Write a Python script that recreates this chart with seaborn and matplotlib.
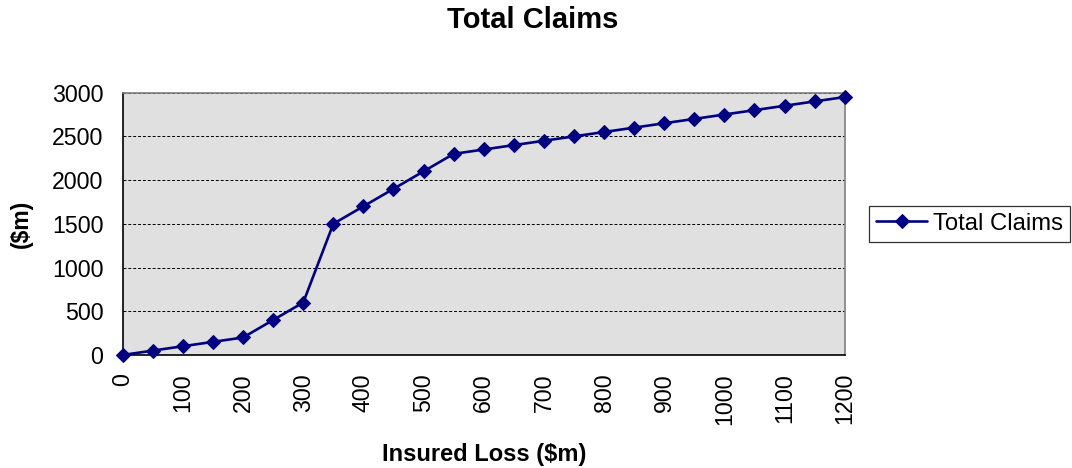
import numpy as np
import pandas as pd
import matplotlib
matplotlib.use("Agg")
import matplotlib.pyplot as plt
import seaborn as sns

# data
insured_loss = [0, 50, 100, 150, 200, 250, 300, 350, 400, 450, 500, 550, 600,
                650, 700, 750, 800, 850, 900, 950, 1000, 1050, 1100, 1150, 1200]
total_claims = [0, 50, 100, 150, 200, 400, 600, 1500, 1700, 1900, 2100, 2300, 2350,
                2400, 2450, 2500, 2550, 2600, 2650, 2700, 2750, 2800, 2850, 2900, 2950]
x_ticks = list(range(0, 1201, 100))
y_ticks = list(range(0, 3001, 500))

sns.set_style("white")
plt.rcParams['font.family'] = ['Liberation Sans', 'DejaVu Sans']
plt.rcParams['text.color'] = 'black'
plt.rcParams['axes.labelcolor'] = 'black'
plt.rcParams['xtick.color'] = 'black'
plt.rcParams['ytick.color'] = 'black'

df = pd.DataFrame({"Insured Loss ($m)": insured_loss, "Total Claims": total_claims})

fig = plt.figure(figsize=(10.72, 4.68), dpi=100)
ax = fig.add_axes([0.1145, 0.2415, 0.6735, 0.5605])
ax.set_facecolor("#E0E0E0")

sns.lineplot(data=df, x="Insured Loss ($m)", y="Total Claims", ax=ax,
             color="#000080", marker="D", markersize=7.5, linewidth=1.9,
             markeredgecolor="#000080", label="Total Claims", clip_on=False, zorder=5)

ax.set_xlim(0, 1200)
ax.set_ylim(0, 3000)
ax.set_xticks(x_ticks)
ax.set_xticks(insured_loss, minor=True)
ax.set_yticks(y_ticks)
ax.set_xticklabels([str(v) for v in x_ticks], rotation=90, fontsize=16.7)
ax.set_yticklabels([str(v) for v in y_ticks], fontsize=16.7)
ax.tick_params(axis="x", which="both", direction="out", length=7, width=1,
               color="#555555", pad=6)
ax.tick_params(axis="y", direction="out", length=7, width=1, color="black", pad=7)

ax.grid(axis="y", color="black", linestyle=(0, (3, 2)), linewidth=0.7)
ax.set_axisbelow(True)

for side in ["left", "bottom"]:
    ax.spines[side].set_color("black")
    ax.spines[side].set_linewidth(1.2)
for side in ["top", "right"]:
    ax.spines[side].set_color("#808080")
    ax.spines[side].set_linewidth(1.2)
    ax.spines[side].set_visible(True)

ax.set_xlabel("Insured Loss ($m)", fontsize=17, fontweight="bold")
ax.set_ylabel("($m)", fontsize=16.5, fontweight="bold")
ax.xaxis.set_label_coords(0.5, -0.335)
ax.yaxis.set_label_coords(-0.124, 0.5)
fig.text(0.497, 0.957, "Total Claims", fontsize=21, fontweight="bold",
         ha="center", va="center")

leg = ax.legend(loc="center left", bbox_to_anchor=(1.034, 0.5), fontsize=17.2,
                frameon=True, fancybox=False, edgecolor="black", borderpad=0.3,
                handlelength=2.1, handletextpad=0.25, borderaxespad=0)
leg.get_frame().set_linewidth(0.9)

fig.savefig("out.png", dpi=100)
